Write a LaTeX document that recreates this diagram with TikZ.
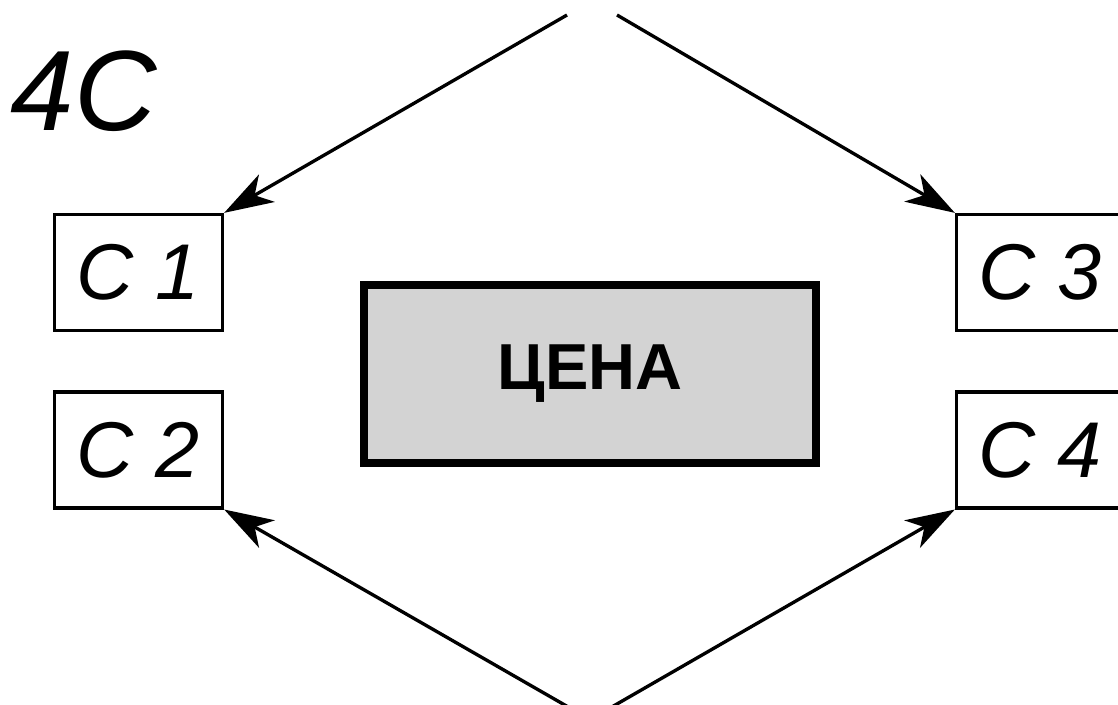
\documentclass[tikz,border=0pt]{standalone}
\usepackage{fontspec}
\setmainfont{Liberation Sans}
\usetikzlibrary{arrows.meta, positioning}

\begin{document}
\begin{tikzpicture}
  [>={Stealth[length=14pt, width=9pt, inset=4pt]},
    node distance=0.58cm]

    \definecolor{gris}{RGB}{211, 211, 211}

  \tikzset{
    base/.style={
      inner sep=0pt,
      align=center,
    },
    cbox/.style={base,
      rectangle,
      draw=black, line width=0.95pt,
      minimum width=1.68cm, minimum height=1.16cm,
      font=\fontsize{22.5}{26}\selectfont\itshape,
    },
    central/.style={base,
      rectangle,
      draw=black, fill=gris, line width=2.4pt,
      minimum width=4.52cm, minimum height=1.78cm,
      font=\fontsize{18.5}{22}\selectfont\bfseries,
    },
    vers/.style={->, draw, line width=0.95pt},
  }

  \useasboundingbox (0,0) rectangle (11.18,-7.04);

  \node[base, anchor=base west, font=\fontsize{32.5}{38}\selectfont\itshape]
    (titre) at (0.10,-1.30) {4C};

  \node[cbox] (c1) at (1.385,-2.725) {C 1};
  \node[cbox, below=of c1] (c2) {C 2};
  \node[cbox] (c3) at (10.405,-2.725) {C 3};
  \node[cbox, below=of c3] (c4) {C 4};

  \node[central] (cena) at (5.90,-3.74) {ЦЕНА};

  % free ends at the top and bottom of the picture
  \coordinate (hautg) at (5.67,-0.15);
  \coordinate (hautd) at (6.17,-0.15);
  \coordinate (basg) at (5.70,-7.08);
  \coordinate (basd) at (6.10,-7.08);

  \draw[vers] (hautg) -- (c1.north east);
  \draw[vers] (hautd) -- (c3.north west);
  \draw[vers] (basg) -- (c2.south east);
  \draw[vers] (basd) -- (c4.south west);
\end{tikzpicture}
\end{document}
